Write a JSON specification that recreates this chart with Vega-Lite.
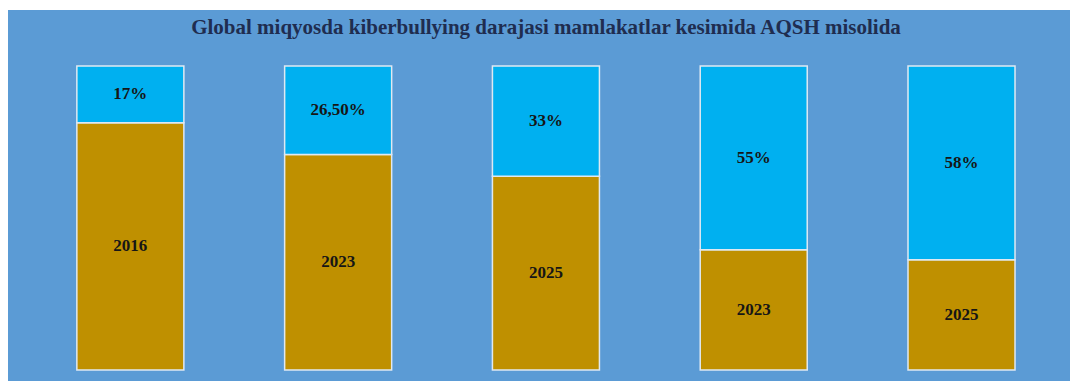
{
  "$schema": "https://vega.github.io/schema/vega-lite/v6.json",
  "width": 1062,
  "height": 371,
  "autosize": {"type": "none"},
  "padding": {"left": 8, "top": 10, "right": 0, "bottom": 2},
  "background": "white",
  "config": {"view": {"fill": "#5b9bd5", "stroke": null}},
  "title": {
    "text": "Global miqyosda kiberbullying darajasi mamlakatlar kesimida AQSH misolida",
    "font": "Liberation Serif",
    "fontSize": 21,
    "fontWeight": "bold",
    "color": "#1f2d50",
    "anchor": "middle",
    "frame": "group",
    "offset": -28,
    "dx": 7
  },
  "data": {
    "values": [
      {"bar": "1", "segment": "year", "label": "2016", "value": 74},
      {"bar": "1", "segment": "pct", "label": "17%", "value": 17},
      {"bar": "2", "segment": "year", "label": "2023", "value": 64.5},
      {"bar": "2", "segment": "pct", "label": "26,50%", "value": 26.5},
      {"bar": "3", "segment": "year", "label": "2025", "value": 58},
      {"bar": "3", "segment": "pct", "label": "33%", "value": 33},
      {"bar": "4", "segment": "year", "label": "2023", "value": 36},
      {"bar": "4", "segment": "pct", "label": "55%", "value": 55},
      {"bar": "5", "segment": "year", "label": "2025", "value": 33},
      {"bar": "5", "segment": "pct", "label": "58%", "value": 58}
    ]
  },
  "transform": [
    {"stack": "value", "groupby": ["bar"], "sort": [{"field": "segment", "order": "descending"}], "as": ["y0", "y1"]},
    {"calculate": "(datum.y0 + datum.y1) / 2", "as": "ymid"}
  ],
  "encoding": {
    "x": {
      "field": "bar",
      "type": "nominal",
      "axis": null,
      "scale": {"paddingInner": 0.485, "paddingOuter": 0.298, "align": 0.556}
    }
  },
  "layer": [
    {
      "mark": {"type": "bar", "stroke": "#dfe9f2", "strokeWidth": 1.5},
      "encoding": {
        "y": {
          "field": "y0",
          "type": "quantitative",
          "axis": null,
          "scale": {"domain": [-3.29, 107.76], "nice": false, "zero": false}
        },
        "y2": {"field": "y1"},
        "color": {
          "field": "segment",
          "type": "nominal",
          "scale": {"domain": ["pct", "year"], "range": ["#00b0f0", "#bf9000"]},
          "legend": null
        }
      }
    },
    {
      "mark": {"type": "text", "font": "Liberation Serif", "fontWeight": "bold", "fontSize": 17, "color": "#161616", "baseline": "middle", "align": "center"},
      "encoding": {
        "y": {"field": "ymid", "type": "quantitative"},
        "text": {"field": "label", "type": "nominal"}
      }
    }
  ]
}
